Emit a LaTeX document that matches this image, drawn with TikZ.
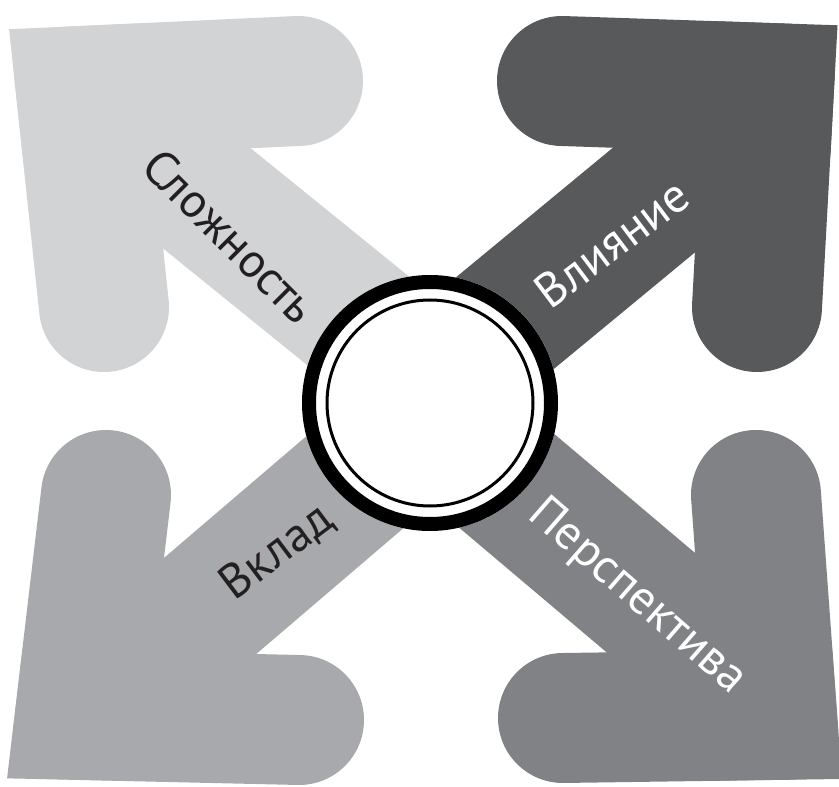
\documentclass[tikz,border=0pt]{standalone}
\usepackage{fontspec}
\setmainfont{PT Sans}
\begin{document}
\begin{tikzpicture}[x=0.02cm,y=-0.02cm]
\definecolor{cTL}{HTML}{D1D3D4}
\definecolor{cTR}{HTML}{58595B}
\definecolor{cBL}{HTML}{A7A9AC}
\definecolor{cBR}{HTML}{808285}
\definecolor{ink}{HTML}{231F20}
\tikzset{
  shaft/.style={line width=2.66cm},
  arm/.style={line width=2.6cm, line cap=round},
  corner/.style={rounded corners=1cm},
  lbl/.style={font=\fontsize{27.5}{32}\selectfont, inner sep=0pt},
}
\useasboundingbox (0,0) rectangle (839,787);
% top-left arrow
\draw[shaft, cTL] (430,379) -- (120,128);
\draw[arm, cTL] (298,81) -- (81,91) -- (104,307);
\fill[corner, cTL] (184,21.3) -- (9.2,29.4) -- (27.8,203.3) -- (81,91) -- cycle;
% top-right arrow
\draw[shaft, cTR] (430,385) -- (740,129);
\draw[arm, cTR] (562,81) -- (769,88) -- (757,307);
\fill[corner, cTR] (662.7,19.4) -- (837.5,25.3) -- (828,200) -- (769,88) -- cycle;
% bottom-left arrow
\draw[shaft, cBL] (430,418) -- (120,683);
\draw[arm, cBL] (106,495) -- (80,715) -- (299,720);
\fill[corner, cBL] (27.9,604.3) -- (7.4,778.1) -- (182.4,782.1) -- (80,715) -- cycle;
% bottom-right arrow
\draw[shaft, cBR] (430,416) -- (740,678);
\draw[arm, cBR] (756,495) -- (772,715) -- (563,718);
\fill[corner, cBR] (829,604.4) -- (841.7,778.9) -- (666.7,781.4) -- (772,715) -- cycle;
% centre rings
\fill[white] (430,403) circle[radius=128];
\draw[black, line width=0.28cm] (430,403) circle[radius=121];
\draw[black, line width=0.06cm] (430,403) circle[radius=103];
% labels
\node[lbl, rotate=-45, text=ink] (slozh) at (230,236) {Сложность};
\node[lbl, rotate=37, text=white] (vliyanie) at (612,243) {Влияние};
\node[lbl, rotate=37, text=ink] (vklad) at (277,552) {Вклад};
\node[lbl, rotate=-41, text=white] (persp) at (637,597) {Перспектива};
\end{tikzpicture}
\end{document}
